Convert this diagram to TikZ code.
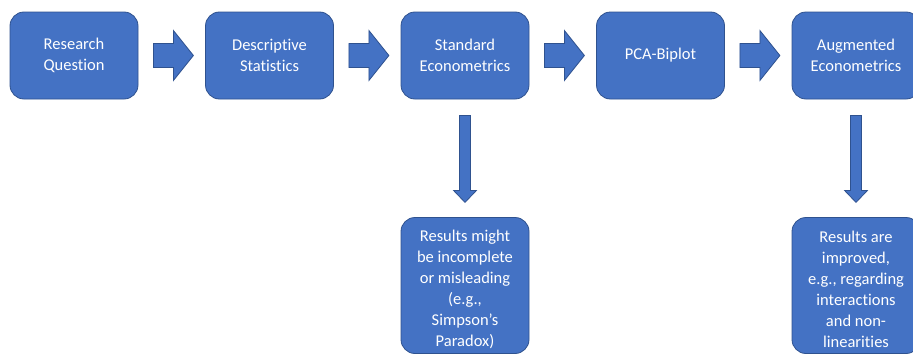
\documentclass[tikz,border=0pt]{standalone}
\usepackage{fontspec}
\setmainfont{Carlito}[Ligatures={NoCommon,NoContextual}]
\usetikzlibrary{calc}
\definecolor{boxfill}{HTML}{4472C4}
\definecolor{boxline}{HTML}{2F528F}
\tikzset{
  boxtext/.style={text=white, align=center, font=\fontsize{16.5}{21}\selectfont},
  stage/.style={draw=boxline, fill=boxfill, line width=0.8pt, rounded corners=14pt,
    minimum width=128pt, minimum height=87pt, boxtext, inner sep=2pt},
  outcome/.style={stage, minimum height=136pt},
  outcometext/.style={boxtext, yshift=-4pt},
  flow/.style={draw=boxline, fill=boxfill, line width=0.8pt, line join=miter}
}
% block arrow pointing right, from node #1 towards node #2
\newcommand\rightflow[2]{%
  \draw[flow] ($(#1.east)+(15,-12)$) -- ++(20,0) -- ++(0,-13) -- ++(20,25)
    -- ++(-20,25) -- ++(0,-13) -- ++(-20,0) -- cycle;}
% block arrow pointing down, from node #1 towards node #2
\newcommand\downflow[2]{%
  \draw[flow] ($(#1.south)+(-5.5,16)$) -- ++(0,75) -- ++(-6,0) -- ++(11.5,12)
    -- ++(11.5,-12) -- ++(-6,0) -- ++(0,-75) -- cycle;}
\begin{document}
\begin{tikzpicture}[x=1pt, y=-1pt]
\useasboundingbox (0,0) rectangle (913,356);

\node[stage] (rq)  at (74,55.5)    {Research\\Question};
\node[stage] (ds)  at (269.5,55.5) {Descriptive\\Statistics};
\node[stage] (se)  at (465,55.5)   {Standard\\Econometrics};
\node[stage] (pca) at (660.5,55.5) {PCA-Biplot};
\node[stage] (ae)  at (856,55.5)   {Augmented\\Econometrics};

\node[outcome, label={[outcometext]center:{Results might\\be incomplete\\or misleading\\(e.g.,\\Simpson’s\\Paradox)}}] (r1) at (465,285.5) {};
\node[outcome, label={[outcometext]center:{Results are\\improved,\\e.g., regarding\\interactions\\and non-\\linearities}}] (r2) at (856,285.5) {};

\rightflow{rq}{ds}
\rightflow{ds}{se}
\rightflow{se}{pca}
\rightflow{pca}{ae}
\downflow{se}{r1}
\downflow{ae}{r2}
\end{tikzpicture}
\end{document}
